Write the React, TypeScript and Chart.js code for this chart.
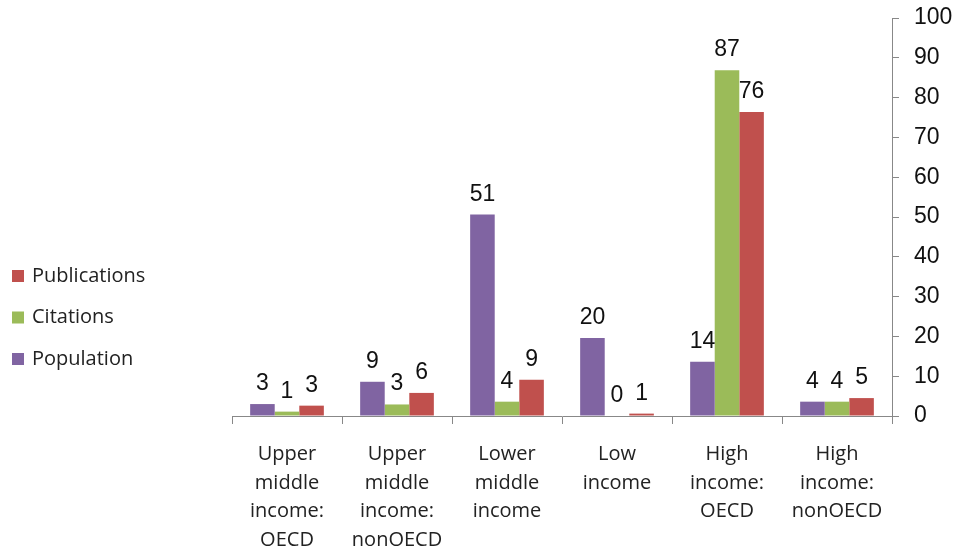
import React, { useEffect, useRef } from "react";
import { Chart, registerables } from "chart.js";

Chart.register(...registerables);

const categories: string[][] = [
  ["Upper", "middle", "income:", "OECD"],
  ["Upper", "middle", "income:", "nonOECD"],
  ["Lower", "middle", "income"],
  ["Low", "income"],
  ["High", "income:", "OECD"],
  ["High", "income:", "nonOECD"],
];
const seriesNames = ["Population", "Citations", "Publications"];
const population = [3.0, 8.6, 50.6, 19.6, 13.6, 3.6];
const citations = [1.1, 2.9, 3.6, 0.0, 86.9, 3.6];
const publications = [2.6, 5.8, 9.1, 0.6, 76.4, 4.5];
const yTicks = { min: 0, max: 100, step: 10 };

const colors = ["#8064A2", "#9BBB59", "#C0504D"];

const valueLabels = {
  id: "valueLabels",
  afterDatasetsDraw(chart: any) {
    const ctx = chart.ctx;
    ctx.save();
    ctx.font = "23px 'Liberation Sans', Arial, sans-serif";
    ctx.fillStyle = "#111";
    ctx.textAlign = "center";
    ctx.textBaseline = "alphabetic";
    chart.data.datasets.forEach((ds: any, i: number) => {
      const meta = chart.getDatasetMeta(i);
      meta.data.forEach((el: any, j: number) => {
        const v = ds.data[j] as number;
        ctx.fillText(String(Math.round(v)), el.x, el.y - 14);
      });
    });
    ctx.restore();
  },
};

const sideLegend = {
  id: "sideLegend",
  afterDraw(chart: any) {
    const ctx = chart.ctx;
    ctx.save();
    ctx.font = "20px 'Open Sans', sans-serif";
    ctx.textAlign = "left";
    ctx.textBaseline = "middle";
    const ds = chart.data.datasets;
    const centers = [276, 317.5, 359];
    for (let k = 0; k < ds.length; k++) {
      const d = ds[ds.length - 1 - k];
      const cy = centers[k];
      ctx.fillStyle = d.backgroundColor;
      ctx.fillRect(12, cy - 6, 12, 12);
      ctx.fillStyle = "#222";
      ctx.fillText(d.label, 32, cy);
    }
    ctx.restore();
  },
};

export default function App() {
  const ref = useRef<HTMLCanvasElement>(null);
  useEffect(() => {
    if (!ref.current) return;
    const chart = new Chart(ref.current, {
      type: "bar",
      data: {
        labels: categories,
        datasets: [population, citations, publications].map((data, i) => ({
          label: seriesNames[i],
          data,
          backgroundColor: colors[i],
          borderWidth: 0,
          categoryPercentage: 0.67,
          barPercentage: 1.0,
        })),
      },
      options: {
        responsive: false,
        animation: false,
        layout: { padding: { left: 232, top: 18, right: 0, bottom: 0 } },
        plugins: { legend: { display: false }, tooltip: { enabled: false } },
        scales: {
          x: {
            grid: {
              offset: true,
              drawOnChartArea: false,
              drawTicks: true,
              tickLength: 8,
              color: "#888",
            },
            border: { display: true, color: "#888" },
            ticks: {
              padding: 16,
              color: "#222",
              maxRotation: 0,
              autoSkip: false,
              font: { family: "'Open Sans', sans-serif", size: 20, lineHeight: 1.43 },
            },
            afterFit(scale: any) {
              scale.height = 132;
            },
          },
          y: {
            position: "right",
            min: yTicks.min,
            max: yTicks.max,
            grid: {
              drawOnChartArea: false,
              drawTicks: true,
              tickLength: 7,
              color: "#888",
            },
            border: { display: true, color: "#888" },
            ticks: {
              stepSize: yTicks.step,
              padding: 15,
              color: "#111",
              font: { family: "'Liberation Sans', Arial, sans-serif", size: 23, lineHeight: 0.2 },
            },
            afterFit(scale: any) {
              scale.width = 61;
            },
          },
        },
      },
      plugins: [valueLabels, sideLegend],
    });
    return () => chart.destroy();
  }, []);
  return (
    <div style={{ position: "fixed", left: 0, top: 0, width: 953, height: 548, background: "#fff" }}>
      <canvas ref={ref} width={953} height={548} style={{ display: "block" }} />
    </div>
  );
}
